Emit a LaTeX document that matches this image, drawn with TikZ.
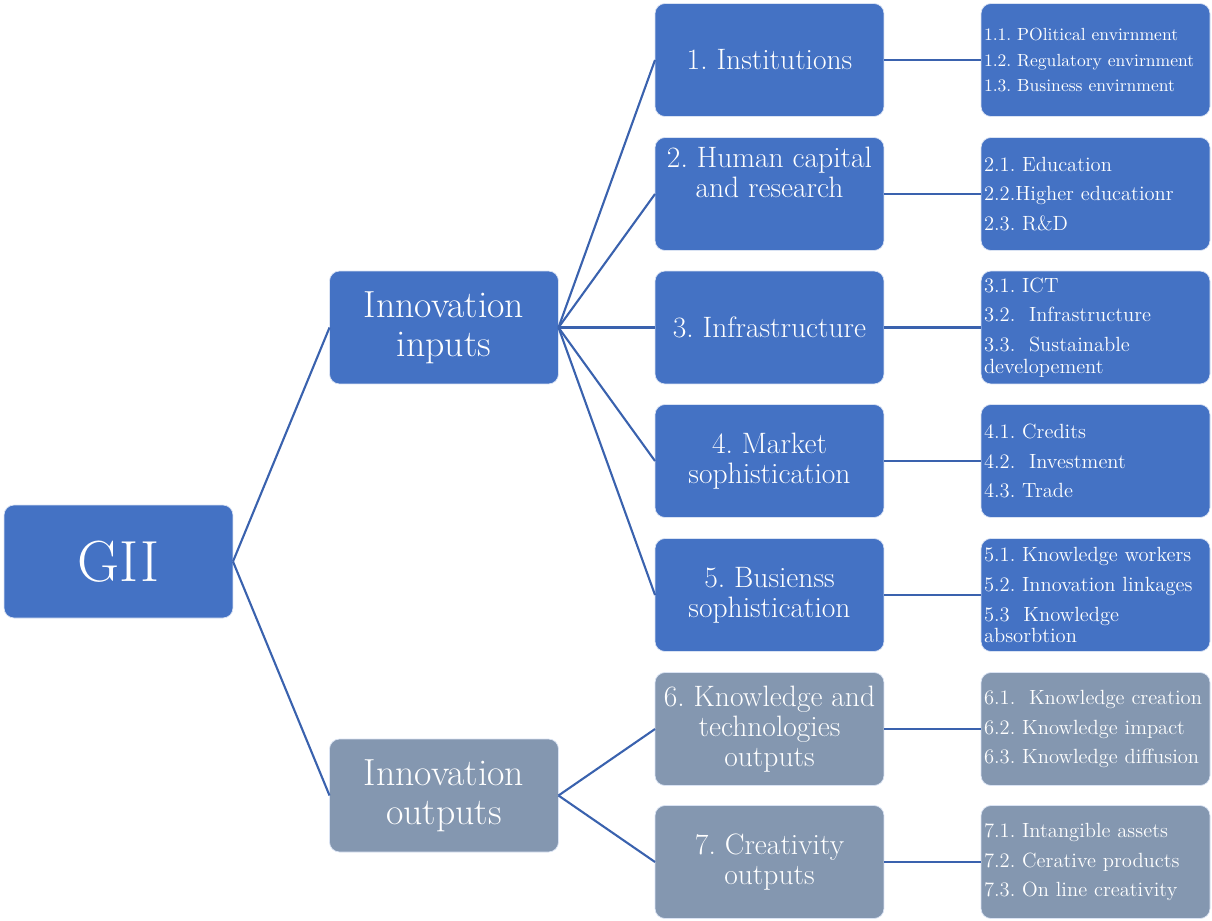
\documentclass[tikz,border=0pt]{standalone}
\usepackage{tikz}
\usetikzlibrary{calc}

\definecolor{boxblue}{HTML}{4472C4}
\definecolor{boxgrey}{HTML}{8497B0}
\definecolor{linkblue}{HTML}{3A62AE}
\frenchspacing

\begin{document}
\begin{tikzpicture}[x=0.02cm,y=-0.02cm,line join=round,
	box/.style={draw=white!80!boxblue,line width=0.4pt,rounded corners=0.2cm,text=white,
		minimum width=4.58cm,minimum height=2.26cm,inner sep=0.06cm,outer sep=0pt},
	topbox/.style={box,fill=boxblue,align=center,font=\fontsize{33}{36}\selectfont},
	pillar/.style={box,align=center,font=\fontsize{21.5}{22}\selectfont},
	areabox/.style={box,align=center,font=\fontsize{16.8}{17}\selectfont},
	itembox/.style={box,fill=boxblue,text width=4.46cm,align=left,font=\fontsize{11.7}{12.3}\selectfont},
	link/.style={draw=linkblue,line width=1.2pt}]
	\useasboundingbox (0,0) rectangle (1212,920);

	% Root
	\node[topbox] (gii) at (118.5,561.5) {GII};

	% Pillars
	\node[pillar,fill=boxblue] (inputs)  at (444,327.5) {Innovation\\inputs};
	\node[pillar,fill=boxgrey] (outputs) at (444,795.5) {Innovation\\outputs};

	% Areas
	\node[areabox,fill=boxblue] (inst)   at (769.5,60)    {1. Institutions};
	\node[areabox,fill=boxblue,text depth=0.88cm] (human) at (769.5,194) {2. Human capital\\and research};
	\node[areabox,fill=boxblue] (infra)  at (769.5,327.5) {3. Infrastructure};
	\node[areabox,fill=boxblue] (market) at (769.5,461)   {4. Market\\sophistication};
	\node[areabox,fill=boxblue] (busi)   at (769.5,595)   {5. Busienss\\sophistication};
	\node[areabox,fill=boxgrey] (know)   at (769.5,729)   {6. Knowledge and\\technologies\\outputs};
	\node[areabox,fill=boxgrey] (creat)  at (769.5,862)   {7. Creativity\\outputs};

	% Sub-pillars
	\node[itembox,font=\fontsize{10}{11}\selectfont] (inst-i) at (1095.5,60)
		{1.1. POlitical envirnment\\[3.7pt]1.2. Regulatory envirnment\\[3.7pt]1.3. Business envirnment};
	\node[itembox] (human-i) at (1095.5,194)
		{2.1. Education\\[4.7pt]2.2.Higher educationr\\[4.7pt]2.3. R\&D};
	\node[itembox] (infra-i) at (1095.5,327.5)
		{3.1. ICT\\[4.7pt]3.2.\ \ Infrastructure\\[4.7pt]3.3.\ \ Sustainable\\developement};
	\node[itembox] (market-i) at (1095.5,461)
		{4.1. Credits\\[4.7pt]4.2.\ \ Investment\\[4.7pt]4.3. Trade};
	\node[itembox] (busi-i) at (1095.5,595)
		{5.1. Knowledge workers\\[4.7pt]5.2. Innovation linkages\\[4.7pt]5.3\ \ Knowledge\\absorbtion};
	\node[itembox,fill=boxgrey] (know-i) at (1095.5,729)
		{6.1.\ \ Knowledge creation\\[4.7pt]6.2. Knowledge impact\\[4.7pt]6.3. Knowledge diffusion};
	\node[itembox,fill=boxgrey] (creat-i) at (1095.5,862)
		{7.1. Intangible assets\\[4.7pt]7.2. Cerative products\\[4.7pt]7.3. On line creativity};

	% Links root -> pillars
	\draw[link] (gii.east) -- (inputs.west);
	\draw[link] (gii.east) -- (outputs.west);

	% Links pillars -> areas
	\draw[link] (inputs.east) -- (inst.west);
	\draw[link] (inputs.east) -- (human.west);
	\draw[link] (inputs.east) -- (infra.west);
	\draw[link] (inputs.east) -- (market.west);
	\draw[link] (inputs.east) -- (busi.west);
	\draw[link] (outputs.east) -- (know.west);
	\draw[link] (outputs.east) -- (creat.west);

	% Links areas -> sub-pillars
	\draw[link] (inst.east) -- (inst-i.west);
	\draw[link] (human.east) -- (human-i.west);
	\draw[link] (infra.east) -- (infra-i.west);
	\draw[link] (market.east) -- (market-i.west);
	\draw[link] (busi.east) -- (busi-i.west);
	\draw[link] (know.east) -- (know-i.west);
	\draw[link] (creat.east) -- (creat-i.west);
\end{tikzpicture}
\end{document}
